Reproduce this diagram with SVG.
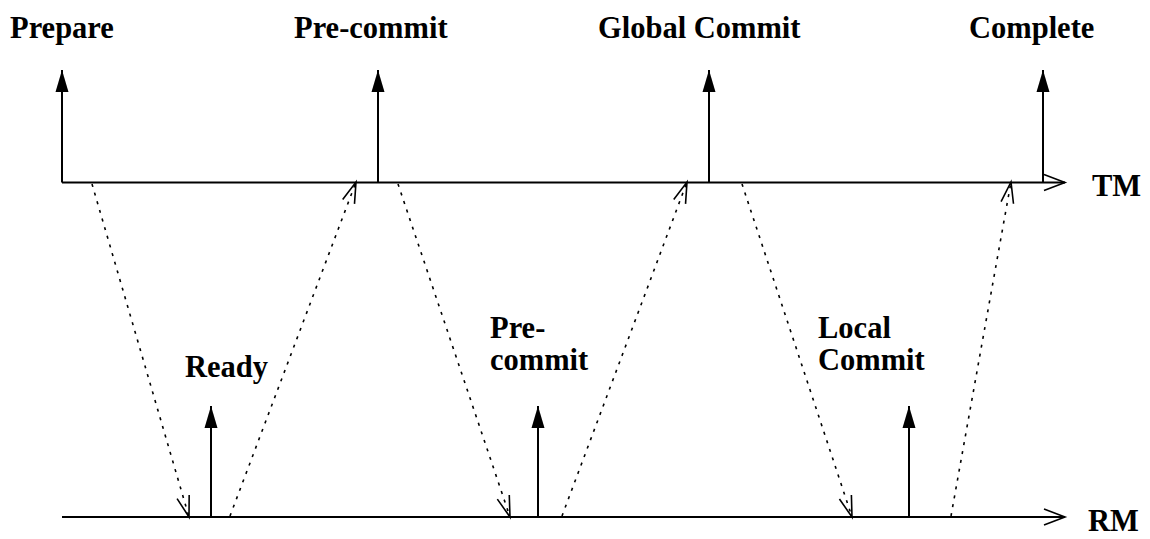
<svg xmlns="http://www.w3.org/2000/svg" width="1150" height="539" viewBox="0 0 1150 539">
<style>
.lbl{font-family:"Liberation Serif","Times New Roman",serif;font-weight:bold;font-size:30.5px;fill:#000}
.axis{stroke:#000;stroke-width:2;fill:none}
.evt{stroke:#000;stroke-width:2;fill:none}
.msg{stroke:#000;stroke-width:1.6;stroke-dasharray:3 6;fill:none}
</style>
<defs>
<marker id="solidHead" markerUnits="userSpaceOnUse" markerWidth="24" markerHeight="16" refX="0" refY="0" viewBox="-22 -8 24 16" orient="auto" overflow="visible">
<path d="M0 0 L-22 -6.5 L-22 6.5 Z" fill="#000"/>
</marker>
<marker id="openHead" markerUnits="userSpaceOnUse" markerWidth="24" markerHeight="20" refX="0" refY="0" viewBox="-22 -10 24 20" orient="auto" overflow="visible">
<path d="M-21 -8 L0 0 L-21 8" fill="none" stroke="#000" stroke-width="1.6"/>
</marker>
<marker id="msgHead" markerUnits="userSpaceOnUse" markerWidth="24" markerHeight="16" refX="0" refY="0" viewBox="-22 -8 24 16" orient="auto" overflow="visible">
<path d="M-21 -6.3 L0 0 L-21 6.3" fill="none" stroke="#000" stroke-width="1.6"/>
</marker>
</defs>
<g id="tm-timeline">
<line class="axis" x1="62" y1="182.5" x2="1065" y2="182.5" marker-end="url(#openHead)"/>
<text class="lbl" x="1092" y="196">TM</text>
</g>
<g id="rm-timeline">
<line class="axis" x1="62" y1="517" x2="1065" y2="517" marker-end="url(#openHead)"/>
<text class="lbl" x="1088" y="531">RM</text>
</g>
<g id="tm-prepare">
<line class="evt" x1="62" y1="182.5" x2="62" y2="70" marker-end="url(#solidHead)"/>
<text class="lbl" x="10" y="38">Prepare</text>
</g>
<g id="tm-precommit">
<line class="evt" x1="378" y1="182.5" x2="378" y2="70" marker-end="url(#solidHead)"/>
<text class="lbl" x="294" y="38">Pre-commit</text>
</g>
<g id="tm-globalcommit">
<line class="evt" x1="709" y1="182.5" x2="709" y2="70" marker-end="url(#solidHead)"/>
<text class="lbl" x="598" y="38">Global Commit</text>
</g>
<g id="tm-complete">
<line class="evt" x1="1043" y1="182.5" x2="1043" y2="70" marker-end="url(#solidHead)"/>
<text class="lbl" x="969" y="38">Complete</text>
</g>
<g id="rm-ready">
<line class="evt" x1="211" y1="517" x2="211" y2="406" marker-end="url(#solidHead)"/>
<text class="lbl" x="185" y="377">Ready</text>
</g>
<g id="rm-precommit">
<line class="evt" x1="538" y1="517" x2="538" y2="406" marker-end="url(#solidHead)"/>
<text class="lbl" x="490" y="338">Pre-</text>
<text class="lbl" x="490" y="370">commit</text>
</g>
<g id="rm-localcommit">
<line class="evt" x1="909" y1="517" x2="909" y2="406" marker-end="url(#solidHead)"/>
<text class="lbl" x="818" y="338">Local</text>
<text class="lbl" x="818" y="370">Commit</text>
</g>
<g id="connectors">
<line class="msg" x1="92" y1="184" x2="189" y2="517" marker-end="url(#msgHead)"/>
<line class="msg" x1="230" y1="516" x2="356" y2="182" marker-end="url(#msgHead)"/>
<line class="msg" x1="398" y1="184" x2="510" y2="517" marker-end="url(#msgHead)"/>
<line class="msg" x1="562" y1="516" x2="687" y2="182" marker-end="url(#msgHead)"/>
<line class="msg" x1="742" y1="184" x2="852" y2="517" marker-end="url(#msgHead)"/>
<line class="msg" x1="951" y1="516" x2="1011" y2="182" marker-end="url(#msgHead)"/>
</g>
</svg>
